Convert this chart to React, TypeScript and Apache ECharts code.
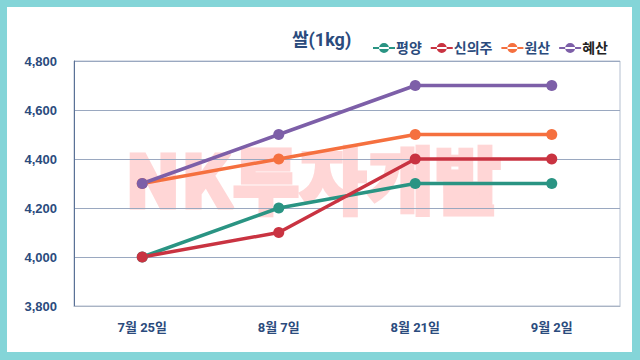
import React, { useEffect, useRef } from "react";
import * as echarts from "echarts";

const categories = ["7월 25일", "8월 7일", "8월 21일", "9월 2일"];
const pyongyang = [4000, 4200, 4300, 4300];
const sinuiju = [4000, 4100, 4400, 4400];
const wonsan = [4300, 4400, 4500, 4500];
const hyesan = [4300, 4500, 4700, 4700];
const seriesNames = ["평양", "신의주", "원산", "혜산"];
const seriesColors = ["#2a9483", "#c93341", "#f5703f", "#7d5fa8"];
const yTicks = { min: 3800, max: 4800, interval: 200 };

export default function App() {
  const ref = useRef<HTMLDivElement>(null);
  useEffect(() => {
    if (!ref.current) return;
    const chart = echarts.init(ref.current, null, { renderer: "svg" });
    const dataSets = [pyongyang, sinuiju, wonsan, hyesan];
    const kfont = 'Roboto, "Noto Sans CJK KR", sans-serif';
    chart.setOption({
      animation: false,
      backgroundColor: "#84d5d8",
      title: {
        text: "쌀(1kg)",
        left: 287,
        top: 25,
        textStyle: { color: "#2b4b7d", fontSize: 18, fontWeight: "bold", fontFamily: kfont },
      },
      legend: {
        left: 368,
        top: 36,
        itemWidth: 22,
        itemHeight: 10,
        itemGap: 9,
        icon: "path://M0,4 L22,4 L22,6 L0,6 Z M6,5 A5,5 0 1,0 16,5 A5,5 0 1,0 6,5 Z",
        textStyle: { color: "#2b4b7d", fontSize: 14, fontWeight: "bold", fontFamily: kfont, padding: [0, 0, 0, -4] },
        data: seriesNames.map((n, i) =>
          i === 3 ? { name: n, textStyle: { color: "#222" } } : { name: n }
        ),
      },
      grid: { left: 74, right: 20, top: 61, bottom: 54, show: true, borderColor: "#b4bfd0", borderWidth: 1 },
      xAxis: {
        type: "category",
        data: categories,
        boundaryGap: true,
        axisLine: { show: true, lineStyle: { color: "#aab4c4" } },
        axisTick: { show: false },
        axisLabel: { color: "#2b4b7d", fontSize: 13, fontWeight: "bold", fontFamily: kfont, margin: 15 },
      },
      yAxis: {
        type: "value",
        min: yTicks.min,
        max: yTicks.max,
        interval: yTicks.interval,
        axisLine: { show: true, lineStyle: { color: "#5a7196" } },
        axisTick: { show: false },
        axisLabel: {
          color: "#2b4b7d",
          fontSize: 13,
          fontWeight: "bold",
          fontFamily: '"Liberation Sans", Arial, sans-serif',
          margin: 17,
          formatter: (v: number) => v.toLocaleString("en-US"),
        },
        splitLine: { lineStyle: { color: "#9aa8c0", width: 1 } },
      },
      series: dataSets.map((d, i) => ({
        name: seriesNames[i],
        type: "line",
        data: d,
        symbol: "circle",
        symbolSize: 11,
        color: seriesColors[i],
        lineStyle: { width: 3.5, color: seriesColors[i] },
        itemStyle: { color: seriesColors[i] },
      })),
      graphic: [
        {
          type: "rect",
          z: -10,
          silent: true,
          shape: { x: 7, y: 7, width: 625, height: 345 },
          style: { fill: "#ffffff" },
        },
        {
          type: "text",
          z: -5,
          silent: true,
          x: 313,
          y: 176,
          style: {
            text: "NK투자개발",
            fill: "#ffd6d6",
            stroke: "#ffd6d6",
            lineWidth: 3,
            font: '900 73px "Noto Sans CJK KR", sans-serif',
            align: "center",
            verticalAlign: "middle",
          },
        },
      ],
    });
    return () => chart.dispose();
  }, []);
  return (
    <div
      ref={ref}
      style={{ position: "absolute", left: 0, top: 0, width: 640, height: 360 }}
    />
  );
}
